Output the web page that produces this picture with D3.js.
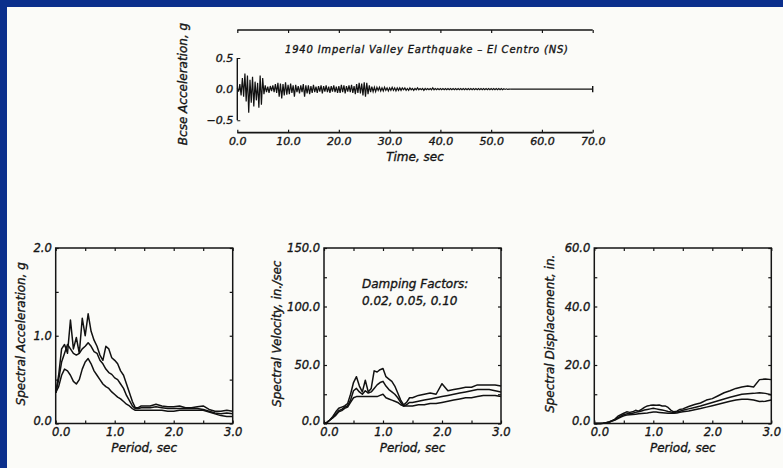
<!DOCTYPE html>
<html>
<head>
<meta charset="utf-8">
<script src="https://cdn.jsdelivr.net/npm/d3@7"></script>
<style>
  body { margin: 0; background: #fbfbf8; }
  svg text { font-family: "DejaVu Sans", sans-serif; font-style: italic; fill: #151515;
             stroke: #151515; stroke-width: 0.35px; }
  .tick line, .frame, .spine { stroke: #151515; }
</style>
</head>
<body>
<svg id="chart"></svg>
<script>
// base acceleration record, one value every 0.25 s (g)
const accelDt = 0.25;
const groundAccel = [
  0.02, -0.04, 0.08, -0.10, 0.18, -0.12, 0.25, -0.20,
  0.22, -0.38, 0.15, -0.22, 0.20, -0.28, 0.12, -0.18,
  0.10, -0.30, 0.22, -0.25, 0.18, -0.08, 0.06, -0.05,
  0.04, -0.06, 0.05, -0.03, 0.06, -0.05, 0.08, -0.06,
  0.10, -0.12, 0.09, -0.15, 0.08, -0.10, 0.11, -0.09,
  0.07, -0.08, 0.09, -0.06, 0.06, -0.12, 0.07, -0.05,
  0.05, -0.07, 0.06, -0.05, 0.08, -0.12, 0.06, -0.07,
  0.06, -0.08, 0.05, -0.06, 0.07, -0.05, 0.04, -0.06,
  0.05, -0.04, 0.06, -0.07, 0.05, -0.04, 0.06, -0.05,
  0.04, -0.06, 0.05, -0.04, 0.06, -0.05, 0.04, -0.06,
  0.05, -0.06, 0.07, -0.05, 0.06, -0.07, 0.05, -0.04,
  0.06, -0.05, 0.07, -0.06, 0.05, -0.08, 0.08, -0.06,
  0.10, -0.07, 0.09, -0.10, 0.11, -0.12, 0.10, -0.08,
  0.06, -0.05, 0.04, -0.04, 0.03, -0.04, 0.03, -0.02,
  0.03, -0.03, 0.02, -0.03, 0.03, -0.02, 0.02, -0.03,
  0.02, -0.02, 0.03, -0.02, 0.02, -0.03, 0.02, -0.02,
  0.02, -0.02, 0.02, -0.01, 0.02, -0.02, 0.01, -0.02,
  0.02, -0.01, 0.01, -0.02, 0.01, -0.01, 0.02, -0.01,
  0.01, -0.01, 0.01, -0.02, 0.01, -0.01, 0.01, -0.01,
  0.01, -0.01, 0.02, -0.01, 0.01, -0.01, 0.01, -0.01,
  0.01, -0.01, 0.01, -0.01, 0.01, -0.01, 0.01, -0.01,
  0.01, -0.01, 0.01, -0.01, 0.01, -0.01, 0.01, -0.01,
  0.01, -0.01, 0.01, -0.01, 0.01, -0.01, 0.01, -0.01,
  0.01, -0.01, 0.01, -0.01, 0.01, -0.01, 0.01, -0.01,
  0.01, -0.01, 0.01, -0.01, 0.01, -0.01, 0.01, -0.01,
  0.01, -0.01, 0.01, -0.01, 0.01, -0.01, 0.01, -0.01,
  0.01, -0.01, 0.005, -0.005, 0.005, -0.005, 0.0, 0.0
];
const timeTicks = [0, 10, 20, 30, 40, 50, 60, 70];
const recordEnd = 70;

// response spectra, damping 0.02 / 0.05 / 0.10
const damping = [0.02, 0.05, 0.10];
const periods = [0, 0.05, 0.1, 0.15, 0.2, 0.25, 0.3, 0.35, 0.4, 0.45, 0.5, 0.55, 0.6, 0.65, 0.7, 0.75,
  0.8, 0.85, 0.9, 0.95, 1.0, 1.05, 1.1, 1.15, 1.2, 1.25, 1.3, 1.35, 1.4, 1.45, 1.5,
  1.6, 1.7, 1.8, 1.9, 2.0, 2.1, 2.2, 2.3, 2.4, 2.5, 2.6, 2.7, 2.8, 2.9, 3.0];

const saValues = [
  [0.35, 0.55, 0.85, 0.90, 0.80, 1.18, 0.85, 0.98, 0.80, 1.20, 1.00, 1.25, 1.05, 0.95, 0.88, 0.78,
   0.72, 0.88, 0.85, 0.75, 0.72, 0.68, 0.60, 0.55, 0.45, 0.35, 0.25, 0.18, 0.18, 0.20, 0.20,
   0.20, 0.22, 0.20, 0.19, 0.19, 0.20, 0.18, 0.18, 0.19, 0.20, 0.16, 0.14, 0.14, 0.15, 0.14],
  [0.35, 0.50, 0.70, 0.80, 0.90, 0.85, 0.80, 0.78, 0.80, 0.85, 0.88, 0.92, 0.88, 0.82, 0.80, 0.72,
   0.68, 0.62, 0.58, 0.56, 0.52, 0.50, 0.45, 0.40, 0.32, 0.26, 0.20, 0.17, 0.17, 0.18, 0.18,
   0.18, 0.19, 0.18, 0.17, 0.17, 0.17, 0.17, 0.17, 0.17, 0.16, 0.14, 0.12, 0.11, 0.12, 0.11],
  [0.35, 0.42, 0.55, 0.62, 0.60, 0.55, 0.48, 0.45, 0.50, 0.62, 0.70, 0.74, 0.68, 0.60, 0.55, 0.50,
   0.45, 0.42, 0.40, 0.36, 0.33, 0.30, 0.28, 0.25, 0.22, 0.20, 0.17, 0.15, 0.15, 0.15, 0.15,
   0.15, 0.15, 0.15, 0.14, 0.14, 0.15, 0.15, 0.15, 0.15, 0.15, 0.13, 0.11, 0.09, 0.08, 0.08]
];
const svValues = [
  [0, 1, 3, 6, 10, 13, 14, 15, 17, 25, 35, 40, 32, 27, 37, 27,
   30, 45, 44, 46, 47, 40, 38, 36, 32, 26, 20, 16, 18, 22, 22,
   24, 25, 26, 25, 34, 28, 29, 30, 31, 31, 33, 33, 33, 33, 32],
  [0, 1, 3, 5, 8, 11, 12, 14, 15, 20, 28, 30, 27, 25, 28, 26,
   27, 30, 33, 35, 36, 32, 29, 27, 25, 22, 18, 15, 16, 18, 18,
   19, 20, 21, 22, 23, 24, 25, 26, 27, 28, 29, 29, 29, 28, 27],
  [0, 1, 3, 5, 7, 10, 11, 13, 14, 18, 22, 23, 23, 23, 23, 23,
   23, 23, 23, 24, 25, 22, 21, 20, 19, 18, 16, 15, 15, 15, 15,
   16, 16, 17, 17, 18, 19, 20, 21, 22, 22, 23, 24, 24, 24, 23]
];
const sdValues = [
  [0, 0, 0, 0.1, 0.3, 0.5, 1, 1.5, 2.5, 3, 3.5, 4, 3.8, 4, 4.5, 4.2,
   4.8, 5.5, 6, 6.2, 6.3, 6.2, 6.3, 6, 6, 5.5, 4.5, 4, 4.2, 4.8, 5,
   5.8, 6.5, 7, 8, 8.5, 9.5, 10.5, 11.2, 12, 12.5, 12.8, 12.5, 15, 15.2, 15],
  [0, 0, 0, 0.1, 0.3, 0.5, 0.9, 1.3, 2, 2.5, 3, 3.3, 3.4, 3.5, 3.8, 4,
   4.3, 4.6, 4.8, 5, 5.2, 5, 4.8, 4.6, 4.4, 4.1, 3.9, 3.8, 3.9, 4.2, 4.5,
   5, 5.5, 6, 6.6, 7.2, 7.8, 8.4, 9, 9.5, 10, 10.2, 10.3, 10.5, 10.3, 9.8],
  [0, 0, 0, 0.1, 0.2, 0.4, 0.8, 1.2, 1.7, 2.2, 2.6, 2.9, 3, 3.1, 3.2, 3.3,
   3.4, 3.5, 3.6, 3.8, 3.9, 3.9, 3.8, 3.7, 3.6, 3.5, 3.5, 3.5, 3.6, 3.8, 4,
   4.3, 4.7, 5.1, 5.6, 6.1, 6.6, 7.1, 7.6, 8, 8.3, 8.3, 8, 7.5, 7.6, 8]
];

const periodTicks = [0, 0.5, 1, 1.5, 2, 2.5, 3];

const W = 783, H = 468;
const svg = d3.select("#chart").attr("width", W).attr("height", H);

svg.append("rect").attr("width", W).attr("height", H).attr("fill", "#fbfbf8");
// blue slide border
svg.append("rect").attr("x", 0).attr("y", 0).attr("width", W).attr("height", 7).attr("fill", "#0b2f8c");
svg.append("rect").attr("x", 0).attr("y", 0).attr("width", 7).attr("height", H).attr("fill", "#0b2f8c");

const fmt = d3.format(".1f");
const minusFmt = d => fmt(d).replace("-", "\u2212");

// ---------- top: base acceleration ----------
const accBox = { left: 237.3, right: 592.7, top: 30, bottom: 132.7 };
const xt = d3.scaleLinear().domain([0, 70]).range([accBox.left, accBox.right]);
const yt = d3.scaleLinear().domain([-0.7, 0.95]).range([accBox.bottom, accBox.top]);

const g0 = svg.append("g");

// top line with ticks pointing down
g0.append("g")
  .attr("transform", `translate(0,${accBox.top})`)
  .call(d3.axisBottom(xt).tickValues(timeTicks).tickSize(3).tickFormat(""))
  .call(a => a.select(".domain").remove())
  .call(a => a.selectAll("line").attr("stroke-width", 1.2));
g0.append("line").attr("class", "spine")
  .attr("x1", accBox.left).attr("x2", accBox.right).attr("y1", accBox.top).attr("y2", accBox.top)
  .attr("stroke-width", 1.7);

// bottom line with ticks pointing up, and labels
g0.append("g")
  .attr("transform", `translate(0,${accBox.bottom})`)
  .call(d3.axisBottom(xt).tickValues(timeTicks).tickSize(-3).tickPadding(5).tickFormat(fmt))
  .call(a => a.select(".domain").remove())
  .call(a => a.selectAll("line").attr("stroke-width", 1.2))
  .call(a => a.selectAll("text").attr("font-size", 11).attr("fill", "#151515"));
g0.append("line").attr("class", "spine")
  .attr("x1", accBox.left).attr("x2", accBox.right).attr("y1", accBox.bottom).attr("y2", accBox.bottom)
  .attr("stroke-width", 1.7);

// left spine from 0.5 to -0.5
g0.append("g")
  .attr("transform", `translate(${accBox.left},0)`)
  .call(d3.axisLeft(yt).tickValues([-0.5, 0, 0.5]).tickSize(-3).tickPadding(4).tickFormat(minusFmt))
  .call(a => a.select(".domain").remove())
  .call(a => a.selectAll("text").attr("font-size", 11).attr("fill", "#151515"));
g0.append("line").attr("class", "spine")
  .attr("x1", accBox.left).attr("x2", accBox.left).attr("y1", yt(0.5)).attr("y2", yt(-0.5))
  .attr("stroke-width", 1.4);

// trace
const lastT = (groundAccel.length - 1) * accelDt;
g0.append("path")
  .datum(groundAccel)
  .attr("fill", "none").attr("stroke", "#111").attr("stroke-width", 1.2)
  .attr("d", d3.line().x((d, i) => xt(i * accelDt)).y(d => yt(d)));
g0.append("line")
  .attr("x1", xt(lastT)).attr("x2", xt(recordEnd)).attr("y1", yt(0)).attr("y2", yt(0))
  .attr("stroke", "#111").attr("stroke-width", 1.4);
g0.append("line")
  .attr("x1", xt(recordEnd)).attr("x2", xt(recordEnd)).attr("y1", yt(0.05)).attr("y2", yt(-0.05))
  .attr("stroke", "#111").attr("stroke-width", 1.4);

g0.append("text")
  .attr("x", 285).attr("y", 49).attr("dy", "0.35em")
  .attr("font-size", 10).attr("textLength", 283)
  .text("1940 Imperial Valley Earthquake \u2013 El Centro (NS)");
g0.append("text")
  .attr("x", xt(35)).attr("y", 157).attr("dy", "0.35em")
  .attr("text-anchor", "middle").attr("font-size", 12)
  .text("Time, sec");
g0.append("text")
  .attr("transform", `translate(183,84) rotate(-90)`)
  .attr("dy", "0.35em").attr("text-anchor", "middle").attr("font-size", 12)
  .text("Bcse Acceleration, g");

// ---------- bottom: response spectra ----------
const panelTop = 248, panelBottom = 423.5, panelWidth = 177;

const panels = [
  { left: 55.7, max: 2, labels: [0, 1, 2], step: 0.5, values: saValues,
    title: "Spectral Acceleration, g", titleX: 21 },
  { left: 324, max: 150, labels: [0, 50, 100, 150], step: 25, values: svValues,
    title: "Spectral Velocity, in./sec", titleX: 277 },
  { left: 594.3, max: 60, labels: [0, 20, 40, 60], step: 10, values: sdValues,
    title: "Spectral Displacement, in.", titleX: 550 }
];

panels.forEach(p => {
  const g = svg.append("g");
  const x = d3.scaleLinear().domain([0, 3]).range([p.left, p.left + panelWidth]);
  const y = d3.scaleLinear().domain([0, p.max]).range([panelBottom, panelTop]);
  const yTicks = d3.range(0, p.max + p.step / 2, p.step);
  const yLabel = d => p.labels.includes(d) ? fmt(d) : "";
  const xLabel = d => Number.isInteger(d) ? fmt(d) : "";

  g.append("g").attr("transform", `translate(${p.left},0)`)
    .call(d3.axisLeft(y).tickValues(yTicks).tickSize(-3).tickPadding(4).tickFormat(yLabel))
    .call(a => a.select(".domain").remove())
    .call(a => a.selectAll("line").attr("stroke-width", 1.2))
    .call(a => a.selectAll("text").attr("font-size", 11.5).attr("fill", "#151515"))
    // the 0.0 label sits a little above the corner
    .call(a => a.selectAll(".tick").filter(d => d === 0).select("text").attr("y", -3));
  g.append("g").attr("transform", `translate(${p.left + panelWidth},0)`)
    .call(d3.axisRight(y).tickValues(yTicks).tickSize(-3).tickFormat(""))
    .call(a => a.select(".domain").remove())
    .call(a => a.selectAll("line").attr("stroke-width", 1.2));
  g.append("g").attr("transform", `translate(0,${panelBottom})`)
    .call(d3.axisBottom(x).tickValues(periodTicks).tickSize(-3).tickPadding(4).tickFormat(xLabel))
    .call(a => a.select(".domain").remove())
    .call(a => a.selectAll("line").attr("stroke-width", 1.2))
    .call(a => a.selectAll("text").attr("font-size", 11.5).attr("fill", "#151515"))
    .call(a => a.selectAll(".tick").filter(d => d === 0).select("text").attr("x", 5));
  g.append("g").attr("transform", `translate(0,${panelTop})`)
    .call(d3.axisTop(x).tickValues(periodTicks).tickSize(-3).tickFormat(""))
    .call(a => a.select(".domain").remove())
    .call(a => a.selectAll("line").attr("stroke-width", 1.2));

  g.append("rect").attr("class", "frame")
    .attr("x", p.left).attr("y", panelTop)
    .attr("width", panelWidth).attr("height", panelBottom - panelTop)
    .attr("fill", "none").attr("stroke-width", 1.5);

  const line = d3.line().x((d, i) => x(periods[i])).y(d => y(d));
  g.selectAll("path.curve")
    .data(p.values)
    .enter().append("path")
    .attr("class", "curve")
    .attr("fill", "none").attr("stroke", "#111").attr("stroke-width", 1.5)
    .attr("stroke-linejoin", "round")
    .attr("d", line);

  g.append("text")
    .attr("x", x(1.5)).attr("y", 448).attr("dy", "0.35em")
    .attr("text-anchor", "middle").attr("font-size", 12)
    .text("Period, sec");
  g.append("text")
    .attr("transform", `translate(${p.titleX},${(panelTop + panelBottom) / 2 - 2}) rotate(-90)`)
    .attr("dy", "0.35em").attr("text-anchor", "middle").attr("font-size", 12)
    .text(p.title);
});

// damping note in the velocity panel
svg.append("text").attr("x", 362).attr("y", 284).attr("dy", "0.35em").attr("font-size", 12)
  .text("Damping Factors:");
svg.append("text").attr("x", 362).attr("y", 301).attr("dy", "0.35em").attr("font-size", 12)
  .text(damping.map(d => d.toFixed(2)).join(", "));
</script>
</body>
</html>
